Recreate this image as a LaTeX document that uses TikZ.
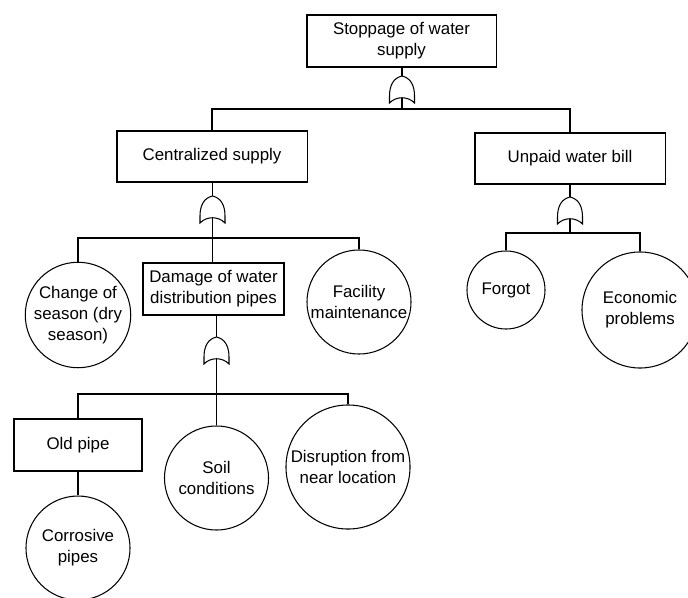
\documentclass[tikz,border=0pt]{standalone}
\usepackage{fontspec}
\setmainfont{Liberation Sans}
\usepackage{tikz}
\usetikzlibrary{positioning}

\tikzset{
  evt/.style={draw, rectangle, align=center, inner sep=0pt, font=\fontsize{12}{15}\selectfont},
  basic/.style={draw, circle, align=center, inner sep=0pt, font=\fontsize{12}{15}\selectfont},
  orgate/.pic={
    \draw (0,0) .. controls (-9,2) and (-12.5,10) .. (-12.5,20) -- (-12.5,27)
      .. controls (-6,20) and (6,20) .. (12.5,27) -- (12.5,20)
      .. controls (12.5,10) and (9,2) .. (0,0);
    \coordinate (-out) at (0,0);
    \coordinate (-in) at (0,22);
  }
}

\begin{document}
\begin{tikzpicture}[x=0.025cm, y=-0.025cm, line width=0.75pt, node distance=1cm]
  \clip (0,0) rectangle (688,597);

  % top event
  \node [evt, minimum width=4.725cm, minimum height=1.3cm] (top) at (401.5,41) {Stoppage of water\\supply};
  \pic (g1) at (402,76) {orgate};
  \coordinate (b1) at (402,109);

  \node [evt, minimum width=4.75cm, minimum height=1.275cm] (cen) at (212,156.5) {Centralized supply};
  \node [evt, minimum width=4.75cm, minimum height=1.275cm] (unp) at (570,158.5) {Unpaid water bill};

  \draw (top.south -| g1-out) -- (g1-out);
  \draw (g1-in) -- (b1);
  \draw (cen.north) |- (b1) -| (unp.north);

  % centralized supply
  \pic (g2) at (212.5,196) {orgate};
  \coordinate (b2) at (212.5,238);

  \node [basic, minimum size=2.6cm] (chg) at (78,315) {Change of\\season (dry\\season)};
  \node [evt, minimum width=3.525cm, minimum height=1.3cm] (dmg) at (213.5,289) {Damage of water\\distribution pipes};
  \node [basic, minimum size=2.6cm] (fac) at (359,302) {Facility\\maintenance};

  \draw (cen.south -| g2-out) -- (g2-out);
  \draw (g2-in) -- (b2);
  \draw (chg.north) |- (b2) -| (fac.north);
  \draw (b2) -- (dmg.north -| b2);

  % unpaid water bill
  \pic (g3) at (570,197) {orgate};
  \coordinate (b3) at (570,233);

  \node [basic, minimum size=1.95cm] (fgt) at (506,290) {Forgot};
  \node [basic, minimum size=2.9cm] (eco) at (640,310) {Economic\\problems};

  \draw (unp.south) -- (g3-out);
  \draw (g3-in) -- (b3);
  \draw (fgt.north) |- (b3) -| (eco.north);

  % damage of pipes
  \pic (g4) at (216.5,337) {orgate};
  \coordinate (b4) at (216.5,394);

  \node [evt, minimum width=3.2cm, minimum height=1.3cm] (old) at (78,445) {Old pipe};
  \node [basic, minimum size=2.6cm] (soil) at (216.5,478) {Soil\\conditions};
  \node [basic, minimum size=3.1cm] (dis) at (348,467) {Disruption from\\near location};
  \node [basic, minimum size=2.6cm, below of=old, node distance=2.575cm] (cor) {Corrosive\\pipes};

  \draw (dmg.south -| g4-out) -- (g4-out);
  \draw (g4-in) -- (b4);
  \draw (old.north) |- (b4) -| (dis.north);
  \draw (b4) -- (soil.north);
  \draw (old) -- (cor);
\end{tikzpicture}
\end{document}
